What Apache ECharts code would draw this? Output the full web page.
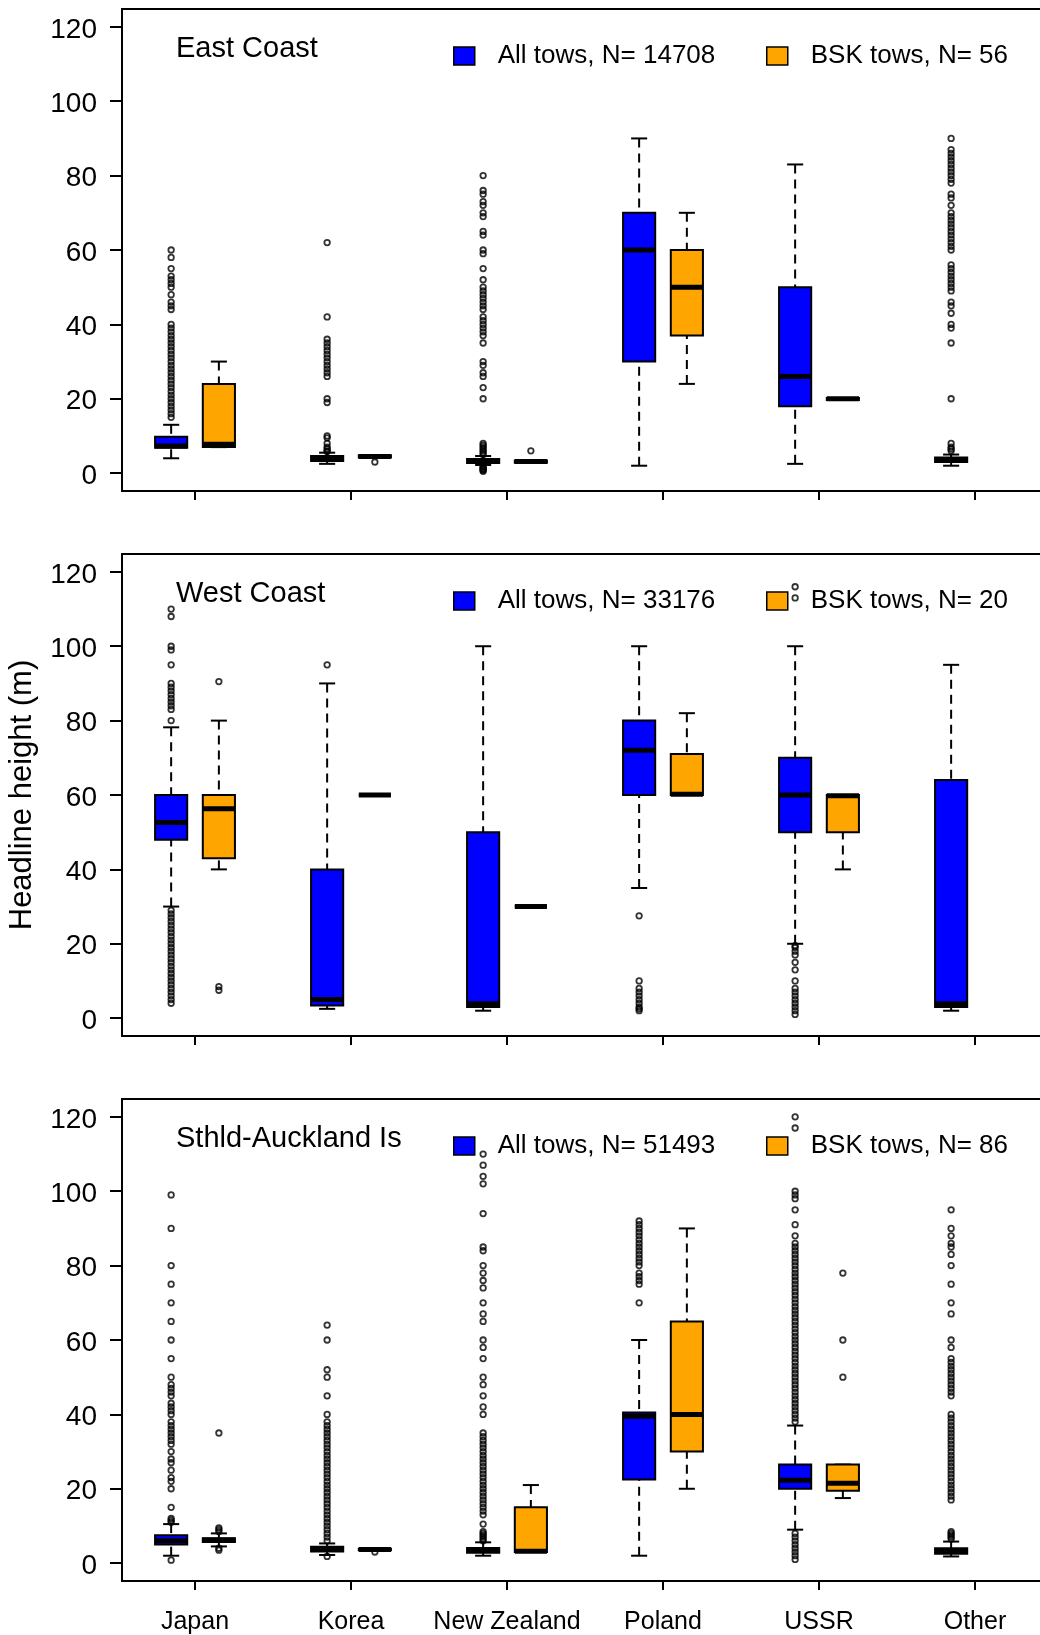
<!DOCTYPE html>
<html><head><meta charset="utf-8">
<script src="https://cdn.jsdelivr.net/npm/echarts@6/dist/echarts.min.js"></script>
<style>html,body{margin:0;padding:0;background:#fff}#c{width:1040px;height:1635px}</style>
</head><body><div id="c"></div>
<script>
// ---------------- data ----------------
const categories = ['Japan', 'Korea', 'New Zealand', 'Poland', 'USSR', 'Other'];
const yTicks = [0, 20, 40, 60, 80, 100, 120];
const panelTitles = ['East Coast', 'West Coast', 'Sthld-Auckland Is'];
const allTowsN = [14708, 33176, 51493];
const bskTowsN = [56, 20, 86];

// box stats: [min whisker, Q1, median, Q3, max whisker]
const eastAllBox = [
  [4, 6.8, 7.3, 9.8, 13],
  [2.5, 3.3, 4.0, 4.6, 5.5],
  [2.2, 2.7, 3.2, 3.8, 4.6],
  [2, 30, 60, 70, 90],
  [2.5, 18, 26, 50, 83],
  [2, 3, 3.6, 4.2, 5]
];
const eastBskBox = [
  [7, 7, 7.8, 24, 30],
  [4.2, 4.2, 4.5, 4.8, 4.8],
  [2.8, 2.8, 3.1, 3.4, 3.4],
  [24, 37, 50, 60, 70],
  [19.7, 19.7, 20, 20.2, 20.2],
  null
];
const eastAllOut = [
  [60, 58, 55, 53, 52, 51, 50, 48, 46, 45, 44, 40, 39, 38, 37, 36, 35, 34, 33, 32, 31, 30, 29, 28, 27, 26, 25, 24, 23, 22, 21, 20, 19, 18, 17, 16, 15],
  [62, 42, 36, 35, 34, 33, 32, 31, 30, 29, 28, 27, 26, 20, 19, 10, 9.5, 8, 7, 6.5, 6, 5.8],
  [80, 76, 75, 73, 72, 70, 69, 65, 64, 60, 59, 55, 52, 50, 49, 48, 47, 46, 45, 44, 42, 41, 40, 39, 38, 37, 35, 30, 29, 27, 26, 23, 20, 8, 7.5, 7, 6.5, 6, 5.5, 5, 1.8, 1.5, 1.2, 1, 0.8, 0.5],
  [],
  [],
  [90, 87, 86, 85, 84, 83, 82, 81, 80, 79, 78, 75, 74, 72, 70, 69, 68, 67, 66, 65, 64, 63, 62, 61, 60, 56, 55, 54, 53, 52, 51, 50, 49, 46, 45, 43, 40, 39, 35, 20, 8, 7, 6.5, 6]
];
const eastBskOut = [[], [3], [6], [], [], []];

const westAllBox = [
  [30, 48, 52.6, 60, 78.2],
  [2.5, 3.4, 5, 40, 90],
  [2, 3, 3.9, 50, 100],
  [35, 60, 72, 80, 100],
  [20, 50, 60, 70, 100],
  [2, 3, 3.9, 64, 95]
];
const westBskBox = [
  [40, 43, 56.3, 60, 80],
  [60, 60, 60, 60, 60],
  [30, 30, 30, 30, 30],
  [60, 60, 60.2, 71, 82],
  [40, 50, 59.8, 60, 60],
  null
];
const westAllOut = [
  [110, 108, 100, 99, 95, 90, 89, 88, 87, 86, 85, 84, 83, 80, 29, 28, 27, 26, 25, 24, 23, 22, 21, 20, 19, 18, 17, 16, 15, 14, 13, 12, 11, 10, 9, 8, 7, 6, 5, 4],
  [95],
  [],
  [27.5, 10, 8, 7, 6, 5, 4, 3, 2.5, 2],
  [116, 113, 19.5, 19, 18, 17, 15, 13, 10, 8, 7, 6, 5, 4, 3, 2, 1],
  []
];
const westBskOut = [[90.5, 8.5, 7.5], [], [], [], [], []];

const southAllBox = [
  [2, 5, 6, 7.5, 10.5],
  [2.2, 3.1, 3.8, 4.4, 5.3],
  [2, 2.8, 3.5, 4.1, 5.6],
  [2, 22.5, 39.5, 40.5, 60],
  [9, 20, 22.3, 26.5, 37],
  [1.8, 2.5, 3.2, 4, 5.8]
];
const southBskBox = [
  [4.5, 5.7, 6.2, 6.7, 8],
  [3.4, 3.5, 3.7, 3.9, 4],
  [3, 3, 3.2, 15, 21],
  [20, 30, 40, 65, 90],
  [17.5, 19.5, 21.5, 26.5, 26.5],
  null
];
const southAllOut = [
  [99, 90, 80, 75, 70, 65, 60, 55, 50, 48, 47, 46, 45, 43, 42, 41, 40, 38, 37, 36, 35, 34, 33, 32, 30, 28, 27, 25, 23, 22, 20, 15, 12, 11.5, 11, 0.8],
  [64, 60, 52, 50, 45, 40, 38, 37, 36, 35, 34, 33, 32, 31, 30, 29, 28, 27, 26, 25, 24, 23, 22, 21, 20, 19, 18, 17, 16, 15, 14, 13, 12, 11, 10, 9, 8, 7, 6, 1.8],
  [110, 107, 104, 102, 94, 85, 84, 80, 78, 76, 74, 70, 67, 65, 60, 58, 55, 50, 48, 45, 42, 40, 35, 34, 33, 32, 31, 30, 29, 28, 27, 26, 25, 24, 23, 22, 21, 20, 19, 18, 17, 16, 15, 14, 13, 10.5, 8.5, 8, 7.5, 7, 6.5, 6],
  [92, 91, 90, 89, 88, 87, 86, 85, 84, 83, 82, 81, 80, 78, 77, 76, 75, 70],
  [120, 117, 100, 99, 98, 95, 91, 88, 86, 85, 84, 83, 82, 81, 80, 79, 78, 77, 76, 75, 74, 73, 72, 71, 70, 69, 68, 67, 66, 65, 64, 63, 62, 61, 60, 59, 58, 57, 56, 55, 54, 53, 52, 51, 50, 49, 48, 47, 46, 45, 44, 43, 42, 41, 40, 39, 38, 8, 7, 6, 5, 4, 3, 2, 1],
  [95, 90, 88, 86, 85, 83, 80, 75, 70, 67, 60, 58, 55, 54, 53, 52, 51, 50, 49, 48, 47, 46, 45, 40, 39, 38, 37, 36, 35, 34, 33, 32, 31, 30, 29, 28, 27, 26, 25, 24, 23, 22, 21, 20, 19, 18, 17, 8.5, 8, 7.5, 7, 6.5]
];
const southBskOut = [[35, 9.5, 9, 8.5, 4, 3.5], [3], [], [], [78, 60, 50], []];

// ---------------- layout / style ----------------
const FONT = "'Liberation Sans', Arial, Helvetica, sans-serif";
const BLUE = '#0000FF';
const ORANGE = '#FFA500';
const PANEL_TOPS = [9, 554, 1099];
const PANEL_H = 482;
const GRID_LEFT = 122;
const GRID_W = 926;
const X_MIN = 0.532, X_MAX = 6.468;
const Y_MIN = -4.8, Y_MAX = 124.8;
const OFFSET = 0.153;
const BOX_HALF = 0.103;

const panels = [
  {allBox: eastAllBox, bskBox: eastBskBox, allOut: eastAllOut, bskOut: eastBskOut},
  {allBox: westAllBox, bskBox: westBskBox, allOut: westAllOut, bskOut: westBskOut},
  {allBox: southAllBox, bskBox: southBskBox, allOut: southAllOut, bskOut: southBskOut}
];

function makeRenderer(fill) {
  return function (params, api) {
    const x = api.value(0);
    const p = [1, 2, 3, 4, 5].map(function (i) { return api.coord([x, api.value(i)]); });
    const cx = p[0][0];
    const yMin = p[0][1], yQ1 = p[1][1], yMed = p[2][1], yQ3 = p[3][1], yMax = p[4][1];
    const hw = api.size([BOX_HALF, 0])[0];
    const ch = hw / 2;
    const dash = {stroke: '#000', lineWidth: 2, lineDash: [9, 6], fill: null};
    const solid = {stroke: '#000', lineWidth: 2, fill: null};
    const children = [];
    if (yMin - yQ1 > 0.5) children.push({type: 'line', shape: {x1: cx, y1: yMin, x2: cx, y2: yQ1}, style: dash});
    if (yQ3 - yMax > 0.5) children.push({type: 'line', shape: {x1: cx, y1: yMax, x2: cx, y2: yQ3}, style: dash});
    children.push({type: 'line', shape: {x1: cx - ch, y1: yMin, x2: cx + ch, y2: yMin}, style: solid});
    children.push({type: 'line', shape: {x1: cx - ch, y1: yMax, x2: cx + ch, y2: yMax}, style: solid});
    children.push({type: 'rect', shape: {x: cx - hw, y: yQ3, width: 2 * hw, height: yQ1 - yQ3},
      style: {fill: fill, stroke: '#000', lineWidth: 2}});
    children.push({type: 'line', shape: {x1: cx - hw, y1: yMed, x2: cx + hw, y2: yMed},
      style: {stroke: '#000', lineWidth: 5, fill: null}});
    return {type: 'group', children: children};
  };
}

const grids = [], xAxes = [], yAxes = [], series = [], titles = [], legends = [];
panels.forEach(function (pd, pi) {
  const T = PANEL_TOPS[pi];
  grids.push({left: GRID_LEFT, top: T, width: GRID_W, height: PANEL_H, show: true, containLabel: false,
    outerBoundsMode: 'none',
    borderColor: '#000', borderWidth: 2, backgroundColor: 'transparent'});
  xAxes.push({type: 'value', gridIndex: pi, min: X_MIN, max: X_MAX,
    axisLine: {show: false, onZero: false}, splitLine: {show: false},
    axisTick: {show: true, customValues: [1, 2, 3, 4, 5, 6], length: 9, lineStyle: {color: '#000', width: 2}},
    axisLabel: {show: pi === 2, customValues: [1, 2, 3, 4, 5, 6], color: '#000', fontSize: 25, fontFamily: FONT, margin: 29,
      formatter: function (v) { return categories[Math.round(v) - 1] || ''; }}});
  const ya = {type: 'value', gridIndex: pi, min: Y_MIN, max: Y_MAX,
    axisLine: {show: false, onZero: false}, splitLine: {show: false},
    axisTick: {show: true, customValues: yTicks, length: 12, lineStyle: {color: '#000', width: 2}},
    axisLabel: {customValues: yTicks, color: '#000', fontSize: 28, fontFamily: FONT, margin: 25,
      formatter: function (v) { return '{t|' + v + '}'; },
      rich: {t: {color: '#000', fontSize: 28, fontFamily: FONT, padding: [6, 0, 0, 0]}}}};
  if (pi === 1) {
    ya.name = 'Headline height (m)';
    ya.nameLocation = 'middle';
    ya.nameGap = 84;
    ya.nameTextStyle = {color: '#000', fontSize: 31, fontFamily: FONT};
  }
  yAxes.push(ya);

  const allName = 'All tows, N= ' + allTowsN[pi];
  const bskName = 'BSK tows, N= ' + bskTowsN[pi];
  const allData = [], bskData = [], allOutData = [], bskOutData = [];
  categories.forEach(function (c, ci) {
    const k = ci + 1;
    if (pd.allBox[ci]) allData.push([k - OFFSET].concat(pd.allBox[ci]));
    if (pd.bskBox[ci]) bskData.push([k + OFFSET].concat(pd.bskBox[ci]));
    pd.allOut[ci].forEach(function (v) { allOutData.push([k - OFFSET, v]); });
    pd.bskOut[ci].forEach(function (v) { bskOutData.push([k + OFFSET, v]); });
  });
  series.push({type: 'custom', name: allName, xAxisIndex: pi, yAxisIndex: pi, silent: true,
    itemStyle: {color: BLUE}, encode: {x: 0, y: [1, 2, 3, 4, 5]}, renderItem: makeRenderer(BLUE), data: allData, z: 2});
  series.push({type: 'custom', name: bskName, xAxisIndex: pi, yAxisIndex: pi, silent: true,
    itemStyle: {color: ORANGE}, encode: {x: 0, y: [1, 2, 3, 4, 5]}, renderItem: makeRenderer(ORANGE), data: bskData, z: 2});
  [allOutData, bskOutData].forEach(function (d) {
    series.push({type: 'scatter', xAxisIndex: pi, yAxisIndex: pi, silent: true, symbol: 'circle', symbolSize: 5.5,
      itemStyle: {color: 'rgba(0,0,0,0)', borderColor: '#000', borderWidth: 1.8}, data: d, z: 3});
  });

  titles.push({text: panelTitles[pi], left: 176, top: T + 25, padding: 0,
    textStyle: {color: '#000', fontSize: 29, fontWeight: 'normal', fontFamily: FONT}});
  const legendCommon = {top: T + 34, itemWidth: 21, itemHeight: 18, padding: 0, selectedMode: false, orient: 'horizontal',
    textStyle: {color: '#000', fontSize: 26, fontFamily: FONT, padding: [0, 0, 0, 18]}};
  legends.push(Object.assign({}, legendCommon, {left: 453,
    data: [{name: allName, icon: 'rect', itemStyle: {color: BLUE, borderColor: '#000', borderWidth: 1.5}}]}));
  legends.push(Object.assign({}, legendCommon, {left: 766,
    data: [{name: bskName, icon: 'rect', itemStyle: {color: ORANGE, borderColor: '#000', borderWidth: 1.5}}]}));
});

const chart = echarts.init(document.getElementById('c'), null, {renderer: 'canvas'});
chart.setOption({
  backgroundColor: '#fff',
  animation: false,
  title: titles,
  legend: legends,
  grid: grids,
  xAxis: xAxes,
  yAxis: yAxes,
  series: series
});
</script></body></html>
